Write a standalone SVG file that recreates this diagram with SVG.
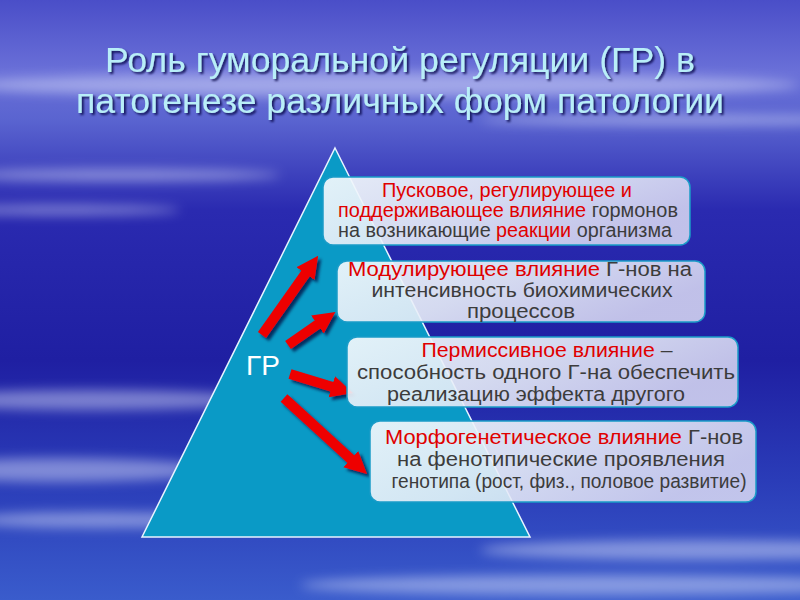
<svg xmlns="http://www.w3.org/2000/svg" width="800" height="600" viewBox="0 0 800 600">
<defs>
<linearGradient id="bg" x1="0" y1="0" x2="0" y2="1">
<stop offset="0" stop-color="#4a4ec8"/>
<stop offset="0.12" stop-color="#6a70d8"/>
<stop offset="0.2" stop-color="#5a64d0"/>
<stop offset="0.35" stop-color="#2a2ab0"/>
<stop offset="0.6" stop-color="#1f1fa2"/>
<stop offset="0.8" stop-color="#2a3cb8"/>
<stop offset="1" stop-color="#3a5ccc"/>
</linearGradient>
<filter id="blur" x="-20%" y="-50%" width="140%" height="200%"><feGaussianBlur stdDeviation="6"/></filter>
<filter id="sh" x="-10%" y="-10%" width="130%" height="140%"><feDropShadow dx="2" dy="2" stdDeviation="1" flood-color="#000040" flood-opacity="0.8"/></filter>
<filter id="ash" x="-20%" y="-20%" width="150%" height="150%"><feDropShadow dx="3" dy="3" stdDeviation="1.5" flood-color="#000030" flood-opacity="0.7"/></filter>
<linearGradient id="box" x1="0" y1="0" x2="1" y2="0.4">
<stop offset="0" stop-color="#f2f8fc" stop-opacity="0.93"/>
<stop offset="0.5" stop-color="#e8eef8" stop-opacity="0.9"/>
<stop offset="1" stop-color="#dcdcf4" stop-opacity="0.85"/>
</linearGradient>
<marker id="ah" viewBox="0 0 10 10" refX="2" refY="5" markerWidth="2.2" markerHeight="2.4" orient="auto" markerUnits="strokeWidth">
<path d="M0,0 L10,5 L0,10 z" fill="#ee0000"/>
</marker>
</defs>
<style>
.t{font-family:"Liberation Sans",Arial,sans-serif;font-size:19.5px;fill:#3c3c3c;text-anchor:middle}
.r{fill:#e00000}
.bx{fill:url(#box);stroke:#1a9cc8;stroke-width:1.5}
.ar{stroke:#ee0000;stroke-width:10;fill:none;marker-end:url(#ah)}
</style>
<rect width="800" height="600" fill="url(#bg)"/>
<g opacity="0.45" filter="url(#blur)" fill="#e8ecff">
<ellipse cx="380" cy="85" rx="420" ry="12"/>
<ellipse cx="120" cy="175" rx="160" ry="6"/>
<ellipse cx="60" cy="210" rx="120" ry="5"/>
<ellipse cx="680" cy="120" rx="200" ry="5"/>
<ellipse cx="90" cy="400" rx="170" ry="10"/>
<ellipse cx="60" cy="470" rx="150" ry="12"/>
<ellipse cx="100" cy="520" rx="130" ry="8"/>
<ellipse cx="700" cy="550" rx="220" ry="10"/>
<ellipse cx="600" cy="585" rx="300" ry="10"/>
</g>
<g id="title" font-family="Liberation Sans, Arial, sans-serif" font-size="35" fill="#b8eef8" text-anchor="middle" filter="url(#sh)">
<text x="400" y="72" textLength="590" lengthAdjust="spacingAndGlyphs">Роль гуморальной регуляции (ГР) в</text>
<text x="400" y="113" textLength="648" lengthAdjust="spacingAndGlyphs">патогенезе различных форм патологии</text>
</g>
<g id="pyramid">
<polygon points="335,148 530,537 142,537" fill="#0a9ac6" stroke="#e8f4ff" stroke-width="1.5"/>
<text x="263" y="375" font-family="Liberation Sans, Arial, sans-serif" font-size="28" fill="#ffffff" text-anchor="middle">ГР</text>
</g>
<g id="connectors" filter="url(#ash)">
<line class="ar" x1="262" y1="335" x2="308" y2="270"/>
<line class="ar" x1="288" y1="345" x2="321" y2="322"/>
<line class="ar" x1="290" y1="374" x2="336" y2="388"/>
<line class="ar" x1="284" y1="398" x2="354" y2="462"/>
</g>
<g id="box1">
<rect class="bx" x="323" y="177" width="367" height="68" rx="10"/>
<text class="t" x="507" y="197" textLength="250" lengthAdjust="spacingAndGlyphs"><tspan class="r">Пусковое, регулирующее и</tspan></text>
<text class="t" x="508" y="217" textLength="340" lengthAdjust="spacingAndGlyphs"><tspan class="r">поддерживающее влияние</tspan> гормонов</text>
<text class="t" x="505" y="237" textLength="334" lengthAdjust="spacingAndGlyphs">на возникающие <tspan class="r">реакции</tspan> организма</text>
</g>
<g id="box2">
<rect class="bx" x="337" y="261" width="368" height="61" rx="10"/>
<text class="t" x="520" y="276" textLength="344" lengthAdjust="spacingAndGlyphs"><tspan class="r">Модулирующее влияние</tspan> Г-нов на</text>
<text class="t" x="522" y="297" textLength="301" lengthAdjust="spacingAndGlyphs">интенсивность  биохимических</text>
<text class="t" x="521" y="318" textLength="108" lengthAdjust="spacingAndGlyphs">процессов</text>
</g>
<g id="box3">
<rect class="bx" x="347" y="337" width="391" height="70" rx="10"/>
<text class="t" x="547" y="357" textLength="251" lengthAdjust="spacingAndGlyphs"><tspan class="r">Пермиссивное влияние</tspan> –</text>
<text class="t" x="546" y="379" textLength="378" lengthAdjust="spacingAndGlyphs">способность одного Г-на обеспечить</text>
<text class="t" x="536" y="401" textLength="298" lengthAdjust="spacingAndGlyphs">реализацию эффекта другого</text>
</g>
<g id="box4">
<rect class="bx" x="370" y="421" width="386" height="81" rx="10"/>
<text class="t" x="564" y="444" textLength="358" lengthAdjust="spacingAndGlyphs"><tspan class="r">Морфогенетическое влияние</tspan> Г-нов</text>
<text class="t" x="561" y="466" textLength="328" lengthAdjust="spacingAndGlyphs">на фенотипические проявления</text>
<text class="t" x="569" y="488" textLength="355" lengthAdjust="spacingAndGlyphs">генотипа (рост, физ., половое развитие)</text>
</g>
</svg>
